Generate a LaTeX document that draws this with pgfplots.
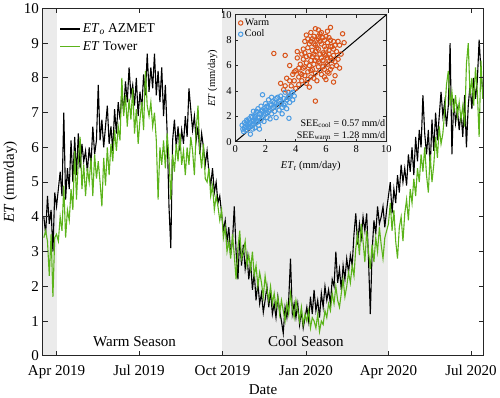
\documentclass[border=0pt]{standalone}
\usepackage{pgfplots}
\pgfplotsset{compat=1.18}
\usepackage{pgfplotstable}
\usepackage{fontspec}
\setmainfont{Liberation Serif}
\definecolor{shade}{HTML}{EBEBEB}
\definecolor{grn}{HTML}{5BB31A}
\definecolor{warm}{HTML}{D95319}
\definecolor{cool}{HTML}{4A9BE3}
\pgfplotstableread{
d B G
-14 4.0 3.4
-12 3.5 3.6
-10 4.6 3.3
-8 3.8 2.3
-6 4.2 3.5
-4 3.0 1.7
-2 4.7 3.4
0 4.3 3.5
2 4.8 3.3
4 5.3 4.0
6 4.6 3.6
8 7.0 4.9
10 4.5 3.4
12 5.4 4.2
14 4.8 3.9
16 6.2 4.8
18 5.0 4.2
20 6.3 5.9
22 5.2 4.5
24 6.4 5.6
26 5.4 6.3
28 6.1 4.8
30 5.6 5.5
32 5.9 4.6
34 5.3 5.4
36 6.0 5.0
38 5.5 5.7
40 6.6 4.6
42 5.8 5.8
44 6.2 5.1
46 7.8 5.6
48 6.2 5.0
50 6.8 4.3
52 6.0 5.7
54 6.6 4.9
56 7.2 6.0
58 6.1 5.2
60 6.6 6.1
62 5.9 5.6
64 7.1 6.5
66 6.4 5.9
68 7.3 6.6
70 6.8 6.2
72 7.6 8.0
74 7.0 6.9
76 7.9 7.5
78 7.3 6.6
80 8.3 7.4
82 7.5 6.8
84 7.8 7.7
86 7.2 6.4
88 8.0 7.1
90 6.9 6.1
92 7.6 6.8
94 7.1 7.3
96 8.1 6.5
98 7.5 8.2
100 8.7 7.2
102 7.6 6.9
104 8.3 7.3
106 7.7 6.6
108 8.7 7.0
110 7.5 6.2
112 8.2 4.5
114 7.3 6.0
116 8.3 5.5
118 6.9 6.2
120 7.8 5.4
122 6.4 6.4
124 4.3 5.7
126 3.1 4.5
128 6.2 5.8
130 6.8 5.3
132 6.0 6.1
134 6.6 5.6
136 5.9 6.4
138 6.5 5.5
140 6.1 5.9
142 6.9 5.2
144 6.3 6.0
146 7.7 5.5
148 7.1 6.3
150 6.5 5.9
152 6.9 5.2
154 6.2 6.5
156 6.6 7.2
158 5.8 5.9
160 6.4 5.4
162 6.0 6.1
164 5.5 5.1
166 5.9 5.0
168 5.3 5.4
170 4.9 4.6
172 5.4 4.9
174 4.7 4.2
176 5.0 4.6
178 4.4 4.3
180 4.6 3.9
182 4.1 4.2
184 3.6 3.4
186 3.9 3.7
188 3.3 3.0
190 3.7 3.3
192 2.9 2.8
194 3.3 3.5
196 4.3 2.9
198 3.0 2.2
200 2.2 3.1
202 3.4 3.6
204 2.6 2.8
206 3.2 3.0
208 2.5 3.3
210 2.9 2.6
212 2.2 2.9
214 2.7 2.5
216 1.9 3.0
218 2.4 2.3
220 1.6 2.6
222 2.1 2.0
224 1.5 2.4
226 1.8 2.1
228 1.25 1.7
230 1.6 2.3
232 2.0 1.9
234 1.4 1.6
236 1.9 2.0
238 1.2 1.5
240 1.5 1.8
242 1.1 1.4
244 1.7 1.7
246 1.3 1.2
248 1.0 1.6
250 0.65 1.3
252 1.4 1.0
254 1.1 1.5
256 1.6 1.2
258 2.8 1.8
260 1.2 1.4
262 1.5 1.1
264 1.1 1.6
266 1.5 1.3
268 0.9 1.0
270 1.3 1.4
272 0.8 0.9
274 1.1 1.2
276 1.4 1.0
278 1.0 1.3
280 1.7 0.8
282 1.2 1.1
284 1.9 1.0
286 1.3 0.8
288 1.6 1.2
290 1.1 0.7
292 1.8 1.0
294 1.4 0.9
296 2.0 1.3
298 1.6 1.1
300 1.9 1.5
302 1.5 1.3
304 2.2 1.8
306 2.0 1.5
308 3.0 2.0
310 2.1 1.6
312 2.5 1.4
314 1.9 1.8
316 2.6 2.2
318 2.2 1.7
320 2.8 2.0
322 2.4 2.4
324 2.9 2.1
326 2.6 2.6
328 3.5 2.3
330 4.1 3.1
332 3.2 3.5
334 3.8 2.9
336 3.4 3.8
338 4.0 3.3
340 3.6 2.7
342 4.1 3.6
344 2.8 3.0
346 1.2 2.5
348 3.0 3.2
350 3.9 2.7
352 3.5 3.4
354 4.3 3.0
356 3.8 3.7
358 4.0 3.2
360 4.3 2.8
362 3.7 3.4
364 4.2 3.6
366 4.6 3.8
368 5.0 4.4
370 4.1 3.6
372 4.8 4.2
374 4.4 3.3
376 5.2 2.8
378 4.7 3.7
380 5.5 4.0
382 5.0 3.3
384 5.4 4.1
386 4.9 4.5
388 5.8 3.9
390 5.3 4.8
392 6.0 4.4
394 5.2 5.1
396 6.3 4.6
398 5.6 5.4
400 6.5 5.0
402 6.0 5.8
404 7.5 5.3
406 6.4 6.0
408 5.8 5.2
410 6.5 4.7
412 5.4 5.8
414 6.8 5.0
416 5.9 5.5
418 7.0 6.3
420 6.2 5.7
422 6.9 6.6
424 7.6 6.1
426 6.9 6.4
428 7.3 7.0
430 6.6 7.8
432 7.2 8.2
434 9.0 7.2
436 5.8 7.6
438 7.4 7.0
440 6.7 7.5
442 7.1 6.9
444 6.5 7.3
446 7.0 6.8
448 6.3 7.2
450 7.5 6.6
452 6.0 8.4
454 7.2 9.0
456 7.8 7.5
458 7.1 8.0
460 8.0 7.2
462 7.4 8.3
464 7.9 7.6
466 9.1 6.3
468 8.2 8.5
470 7.6 7.4
}\tseries
\pgfplotstableread{
x y
2.55 6.95
3.3 6.8
4.1 7.1
4.6 7.9
6.3 9.0
7.1 8.5
5.3 3.2
3.0 4.6
3.2 4.1
3.5 3.9
3.4 5.0
3.7 4.4
3.8 5.3
3.9 4.8
4.0 4.2
4.0 5.6
4.2 5.1
4.2 4.5
4.3 6.1
4.3 5.4
4.4 4.8
4.5 6.5
4.5 5.8
4.6 5.2
4.6 7.0
4.7 6.2
4.7 4.6
4.8 5.5
4.8 7.4
4.9 6.8
4.9 6.0
5.0 5.1
5.0 7.9
5.0 6.4
5.1 7.2
5.1 5.7
5.2 8.3
5.2 6.9
5.2 6.1
5.3 7.6
5.3 5.4
5.4 8.0
5.4 6.6
5.4 4.8
5.5 7.3
5.5 5.9
5.6 8.5
5.6 6.9
5.6 6.2
5.7 7.7
5.7 5.3
5.8 8.2
5.8 7.0
5.8 6.4
5.9 7.5
5.9 5.7
6.0 8.3
6.0 6.8
6.0 4.9
6.1 7.8
6.1 6.1
6.2 7.2
6.2 5.4
6.3 8.0
6.3 6.6
6.4 7.5
6.4 5.9
6.5 6.8
6.5 7.9
6.6 6.3
6.6 5.2
6.7 7.1
6.8 6.5
6.9 7.6
6.9 5.8
7.0 6.9
5.5 8.8
5.3 8.9
6.1 8.7
4.8 8.1
4.4 6.9
3.6 6.0
4.9 4.3
6.5 4.7
7.2 7.8
5.9 5.1
4.1 6.6
5.0 8.6
4.4 5.3
4.6 5.9
4.7 6.7
4.8 4.9
4.9 7.7
5.0 5.6
5.1 6.7
5.1 8.1
5.2 5.0
5.3 6.4
5.3 7.1
5.4 7.4
5.5 6.3
5.5 8.3
5.6 5.6
5.6 7.9
5.7 6.6
5.7 8.6
5.8 5.9
5.9 6.9
5.9 8.0
6.0 6.2
6.0 7.3
6.1 5.5
6.1 6.6
6.2 8.2
6.2 6.9
6.3 5.7
6.3 7.5
6.4 6.4
6.5 7.3
6.6 7.6
6.7 6.0
6.8 7.9
5.2 7.7
4.5 7.3
4.2 5.8
3.9 5.5
3.6 4.8
3.3 4.4
4.7 8.4
5.5 8.1
}\warmdata
\pgfplotstableread{
x y
0.45 1.3
0.5 1.0
0.6 1.5
0.65 1.2
0.7 0.9
0.75 1.7
0.8 1.3
0.85 1.1
0.9 1.8
0.95 1.5
1.0 0.6
1.0 1.2
1.05 2.0
1.1 1.6
1.15 1.0
1.2 2.4
1.2 1.4
1.3 1.8
1.3 1.1
1.35 2.2
1.4 1.5
1.5 2.6
1.5 1.9
1.55 1.3
1.6 2.2
1.7 2.8
1.7 1.7
1.75 2.4
1.8 3.7
1.8 2.0
1.9 2.6
1.9 1.6
2.0 3.0
2.0 2.2
2.1 2.8
2.1 1.9
2.2 3.3
2.2 2.4
2.3 2.9
2.4 2.2
2.4 3.5
2.5 2.7
2.6 3.1
2.6 2.4
2.7 3.4
2.8 2.8
2.9 3.2
2.9 2.5
3.0 3.6
3.0 3.0
3.1 2.7
3.2 3.4
3.3 3.9
3.3 3.0
3.4 2.6
3.5 3.5
3.6 3.1
3.7 3.8
3.8 3.3
3.9 3.6
3.55 1.85
2.7 1.9
1.6 1.0
0.55 0.8
2.3 1.8
3.1 2.2
0.6 1.1
0.7 1.4
0.8 1.6
0.9 1.2
1.0 1.5
1.1 1.9
1.1 1.3
1.2 1.7
1.3 2.0
1.4 1.7
1.4 2.4
1.5 1.6
1.6 1.9
1.7 2.2
1.8 2.5
1.9 2.1
2.0 2.5
2.1 2.3
2.2 2.7
2.3 2.5
2.4 2.9
2.5 3.2
2.6 2.8
2.7 3.0
2.8 3.5
3.0 3.3
3.2 2.9
3.4 3.3
3.6 3.6
3.8 3.9
}\cooldata
\begin{document}
\begin{tikzpicture}
\begin{axis}[
  name=main, at={(0,0)}, anchor=south west,
  scale only axis, width=440pt, height=346.5pt,
  xmin=-15.5, xmax=471, ymin=0, ymax=10,
  xtick={0,91,183,275,366,457},
  xticklabels={Apr 2019,Jul 2019,Oct 2019,Jan 2020,Apr 2020,Jul 2020},
  ytick={0,1,...,10},
  tick align=inside, major tick length=5pt,
  axis line style={black!85, line width=0.8pt},
  tick style={black!85, line width=0.8pt},
  font=\fontsize{15}{18}\selectfont\rmfamily,
  tick label style={font=\fontsize{15}{18}\selectfont\rmfamily},
  xticklabel style={yshift=-6pt},
  /pgf/number format/assume math mode=true,
  xlabel={Date}, ylabel={\textit{ET} (mm/day)},
  xlabel style={yshift=1pt},
  axis on top,
  legend style={at={(0.032,0.968)}, anchor=north west, draw=none, fill=none,
    font=\fontsize{13.5}{16}\selectfont\rmfamily, row sep=3pt, cells={anchor=west}},
  legend image code/.code={\draw[#1, line width=1.1pt] (0pt,0pt) -- (20pt,0pt);},
]
\addplot[fill=shade, draw=none, forget plot] coordinates {(-15.5,0)(0,0)(0,10)(-15.5,10)} --cycle;
\addplot[fill=shade, draw=none, forget plot] coordinates {(183,0)(366,0)(366,10)(183,10)} --cycle;
\addplot[black, line width=1.1pt] table[x=d, y=B] {\tseries};
\addlegendentry{\textit{ET}\textsubscript{\textit{o}} AZMET}
\addplot[grn, line width=1.1pt] table[x=d, y=G] {\tseries};
\addlegendentry{\textit{ET} Tower}
\node[font=\fontsize{15}{18}\selectfont\rmfamily] at (axis cs:86,0.42) {Warm Season};
\node[font=\fontsize{15}{18}\selectfont\rmfamily] at (axis cs:275,0.42) {Cool Season};
\end{axis}
\begin{axis}[
  at={(192.3pt,213.5pt)}, anchor=south west,
  scale only axis, width=150.7pt, height=126.7pt,
  xmin=0, xmax=10, ymin=0, ymax=10,
  xtick={0,2,...,10}, ytick={0,2,...,10},
  tick align=inside, major tick length=3pt,
  axis line style={black!85, line width=0.8pt},
  tick style={black!85, line width=0.6pt},
  font=\fontsize{10.5}{12}\selectfont\rmfamily,
  tick label style={font=\fontsize{10.5}{12}\selectfont\rmfamily},
  /pgf/number format/assume math mode=true,
  xlabel={\textit{ET}\textsubscript{\textit{t}} (mm/day)},
  ylabel={\textit{ET} (mm/day)},
  xlabel style={yshift=-2pt}, ylabel style={yshift=-3pt},
  axis background/.style={fill=shade},
  legend style={at={(0.0,1.0)}, anchor=north west, draw=none, fill=none,
    font=\fontsize{10}{12}\selectfont\rmfamily, row sep=-1pt, cells={anchor=west}},
]
\addplot[only marks, mark=o, mark size=2.2pt, warm, line width=1pt] table[x=x,y=y] {\warmdata};
\addlegendentry{Warm}
\addplot[only marks, mark=o, mark size=2.2pt, cool, line width=1pt] table[x=x,y=y] {\cooldata};
\addlegendentry{Cool}
\addplot[black, line width=1pt, forget plot] coordinates {(0,0)(10,10)};
\node[anchor=south east, font=\fontsize{10}{12}\selectfont\rmfamily, align=right, inner sep=1pt] at (axis cs:10,0.05)
  {SEE\textsubscript{cool} = 0.57 mm/d\\SEE\textsubscript{warm} = 1.28 mm/d};
\end{axis}
\end{tikzpicture}
\end{document}
